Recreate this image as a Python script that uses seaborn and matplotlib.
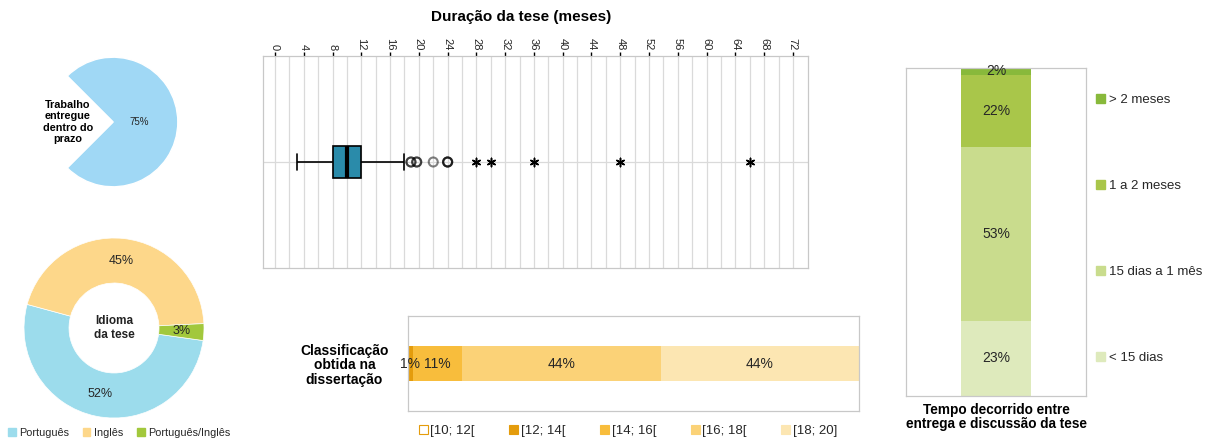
import numpy as np
import pandas as pd
import matplotlib
matplotlib.use("Agg")
import matplotlib.pyplot as plt
import seaborn as sns
from matplotlib.patches import Patch

# ---------------- data ----------------
prazo_labels = ["Trabalho\nentregue\ndentro do\nprazo", ""]
prazo_values = [75, 25]

idioma_labels = ["Português", "Inglês", "Português/Inglês"]
idioma_values = [52, 45, 3]

duracao_meses = [3, 4, 5, 5, 6, 6, 6, 7, 7, 7, 7,
                 8, 8, 8, 8, 8, 8, 8, 8, 8, 8, 8, 8,
                 9, 9, 9, 9, 9, 9, 9,
                 10, 10, 10, 10, 10, 10, 10, 10,
                 11, 11, 11, 11,
                 12, 12, 12, 12, 12,
                 15, 18,
                 18.9, 18.9, 19.7, 19.7, 22, 24, 24, 24,
                 28, 30, 36, 48, 66]
duracao_ticks = list(range(0, 73, 4))

classif_cat = "Classificação\nobtida na\ndissertação"
classif_labels = ["[10; 12[", "[12; 14[", "[14; 16[", "[16; 18[", "[18; 20]"]
classif_values = [0, 1, 11, 44, 44]

tempo_cat = "Tempo decorrido entre\nentrega e discussão da tese"
tempo_labels = ["< 15 dias", "15 dias a 1 mês", "1 a 2 meses", "> 2 meses"]
tempo_values = [23, 53, 22, 2]

# ---------------- style ----------------
sns.set_style("white")
plt.rcParams["font.family"] = ["Liberation Sans", "DejaVu Sans"]
W, H = 1208, 442
TXT = "#262626"
FRAME = "#C8C8C8"

prazo_colors = ["#A0D8F5", "none"]
idioma_colors = ["#9CDCEC", "#FDD78A", "#A2C83C"]
box_color = "#2A8BAA"
classif_colors = ["#FFFFFF", "#E49C0C", "#F8BD3C", "#FBD277", "#FCE6B2"]
tempo_colors = ["#DEEABC", "#C9DC8D", "#A9C64A", "#88B93B"]

fig = plt.figure(figsize=(W / 100, H / 100), dpi=100)


def fax(x0, y0, x1, y1):
    return fig.add_axes([x0 / W, 1 - y1 / H, (x1 - x0) / W, (y1 - y0) / H])


# ---------------- pie: trabalho dentro do prazo ----------------
ax1 = fax(113 - 81, 122 - 81, 113 + 81, 122 + 81)
w1, t1, a1 = ax1.pie(prazo_values, colors=prazo_colors, startangle=-135,
                     autopct="%.0f%%", pctdistance=0.4,
                     textprops=dict(fontsize=7, color=TXT))
a1[1].set_visible(False)
th = np.deg2rad((w1[1].theta1 + w1[1].theta2) / 2)
ax1.text(0.7 * np.cos(th), 0.7 * np.sin(th), prazo_labels[0], ha="center",
         va="center", fontsize=7.8, fontweight="bold", color="black",
         linespacing=1.15)

# ---------------- donut: idioma ----------------
ax2 = fax(114 - 112.5, 328 - 112.5, 114 + 112.5, 328 + 112.5)
w2, t2, a2 = ax2.pie(idioma_values, colors=idioma_colors, startangle=-8,
                     counterclock=False, autopct="%.0f%%", pctdistance=0.75,
                     wedgeprops=dict(width=0.5, edgecolor="white", linewidth=0.5),
                     textprops=dict(fontsize=9, color=TXT))
ax2.text(0, 0, "Idioma\nda tese", ha="center", va="center", fontsize=8.5,
         fontweight="bold", color="#222222", linespacing=1.3)
fig.legend(handles=[Patch(color=c, label=l) for c, l in zip(idioma_colors, idioma_labels)],
           loc="center left", bbox_to_anchor=(8 / W, 1 - 433 / H), ncol=3,
           fontsize=7.8, frameon=False, handlelength=0.7, handleheight=0.7,
           handletextpad=0.3, columnspacing=1.3, borderaxespad=0, borderpad=0)

# ---------------- boxplot: duração ----------------
ax3 = fax(263, 56, 808, 268)
d = np.array(duracao_meses, dtype=float)
sns.boxplot(x=d, ax=ax3, orient="h", width=0.15, color=box_color,
            saturation=1, showfliers=False, linecolor="black", linewidth=1.2,
            medianprops=dict(linewidth=3, color="black"), whis=1.5)
q1, q3 = np.percentile(d, [25, 75])
iqr = q3 - q1
mild = d[(d > q3 + 1.5 * iqr) & (d <= q3 + 3 * iqr)]
extreme = d[d > q3 + 3 * iqr]
ax3.scatter(mild, np.zeros(len(mild)), s=42, facecolors="none",
            edgecolors="black", linewidths=1.5, alpha=0.5, zorder=5)
ax3.scatter(extreme, np.zeros(len(extreme)), s=36, marker=(6, 2, 0),
            color="black", linewidths=1.1, zorder=5)
ax3.set_xlim(-1.67, 74.1)
ax3.set_ylim(0.5, -0.5)
ax3.set_xticks(duracao_ticks)
ax3.set_xticks(range(0, 74, 2), minor=True)
ax3.xaxis.tick_top()
ax3.tick_params(axis="x", which="major", labelrotation=-90, labelsize=8,
                length=3, width=1, color="black", pad=1, labelcolor=TXT)
ax3.tick_params(axis="x", which="minor", length=0)
ax3.set_yticks([0])
ax3.set_yticklabels([""])
ax3.tick_params(axis="y", length=0)
ax3.grid(axis="x", which="both", color="#DADADA", linewidth=0.9)
ax3.grid(axis="y", which="major", color="#DADADA", linewidth=0.9)
ax3.set_axisbelow(True)
for s in ax3.spines.values():
    s.set_color(FRAME)
    s.set_linewidth(0.9)
for lab in ax3.get_xticklabels():
    lab.set_verticalalignment("bottom")
fig.text(521 / W, 1 - 17 / H, "Duração da tese (meses)", ha="center",
         va="center", fontsize=11, fontweight="bold", color="black")

# ---------------- stacked hbar: classificação ----------------
ax4 = fax(408, 316, 859, 411)
cum_c = np.cumsum(classif_values)
for i in reversed(range(len(classif_values))):
    if classif_values[i] == 0:
        continue
    sns.barplot(x=[cum_c[i]], y=[classif_cat], color=classif_colors[i],
                orient="h", width=0.37, saturation=1, ax=ax4,
                edgecolor="none", linewidth=0)
for i, v in enumerate(classif_values):
    if v > 0:
        ax4.text(cum_c[i] - v / 2, 0, f"{v}%", ha="center", va="center",
                 fontsize=10, color=TXT)
ax4.set_xlim(0, 100)
ax4.set_ylim(0.5, -0.5)
ax4.set_xticks([])
ax4.set_xlabel("")
ax4.set_ylabel("")
ax4.tick_params(axis="y", length=0, pad=14)
for lab in ax4.get_yticklabels():
    lab.set_fontweight("bold")
    lab.set_fontsize(10)
    lab.set_multialignment("center")
    lab.set_linespacing(1.05)
    lab.set_color("black")
for s in ax4.spines.values():
    s.set_color(FRAME)
    s.set_linewidth(0.9)
handles_c = [Patch(facecolor=c, edgecolor=(classif_colors[1] if i == 0 else c),
                   linewidth=0.8, label=l)
             for i, (c, l) in enumerate(zip(classif_colors, classif_labels))]
fig.legend(handles=handles_c, loc="center", bbox_to_anchor=(628 / W, 1 - 431 / H),
           ncol=5, fontsize=9.5, frameon=False, handlelength=0.7, handleheight=0.7,
           handletextpad=0.2, columnspacing=2.6, borderaxespad=0, borderpad=0)

# ---------------- stacked vbar: tempo ----------------
ax5 = fax(906, 68, 1086, 396)
cum_t = np.cumsum(tempo_values)
for i in reversed(range(len(tempo_values))):
    sns.barplot(x=[tempo_cat], y=[cum_t[i]], color=tempo_colors[i],
                width=0.39, saturation=1, ax=ax5, edgecolor="none", linewidth=0)
for i, v in enumerate(tempo_values):
    ax5.text(0, cum_t[i] - v / 2, f"{v}%", ha="center", va="center",
             fontsize=10, color=TXT)
ax5.set_ylim(0, 100)
ax5.set_xlim(-0.5, 0.5)
ax5.set_yticks([])
ax5.set_xlabel("")
ax5.set_ylabel("")
ax5.tick_params(axis="x", length=0, pad=5)
for lab in ax5.get_xticklabels():
    lab.set_fontweight("bold")
    lab.set_fontsize(9.8)
    lab.set_multialignment("center")
    lab.set_linespacing(1.0)
    lab.set_color("black")
for s in ax5.spines.values():
    s.set_color(FRAME)
    s.set_linewidth(0.9)
handles_t = [Patch(color=c, label=l) for c, l in zip(tempo_colors, tempo_labels)][::-1]
fig.legend(handles=handles_t, loc="center left", bbox_to_anchor=(1096 / W, 1 - 229 / H),
           fontsize=9.5, frameon=False, handlelength=0.7, handleheight=0.7,
           handletextpad=0.3, labelspacing=5.6, borderaxespad=0, borderpad=0)

fig.savefig("out.png", dpi=100)
